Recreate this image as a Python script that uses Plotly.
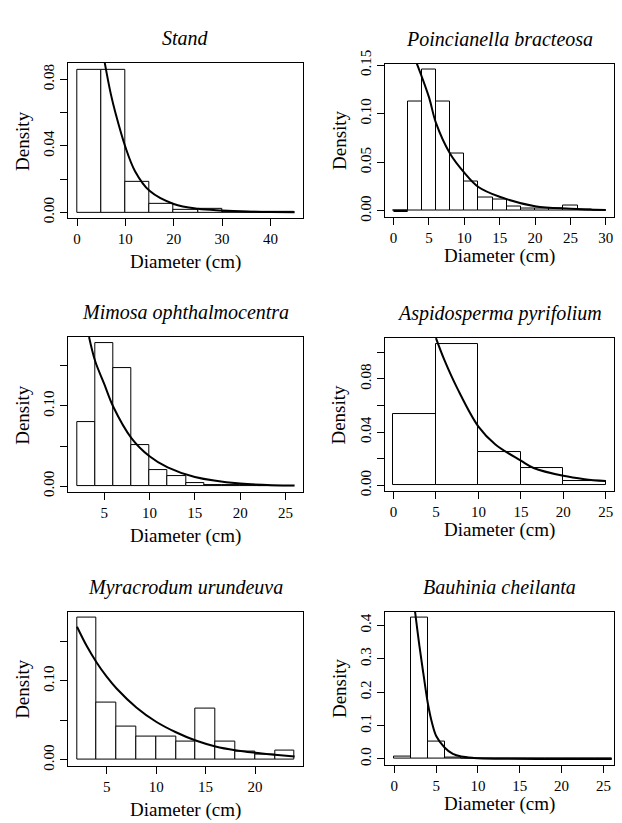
import plotly.graph_objects as go
from plotly.subplots import make_subplots

# ---------------- data ----------------
titles = ["Stand", "Poincianella bracteosa", "Mimosa ophthalmocentra",
          "Aspidosperma pyrifolium", "Myracrodum urundeuva", "Bauhinia cheilanta"]

stand_breaks = [0, 5, 10, 15, 20, 25, 30, 35, 40, 45]
stand_dens = [0.0859, 0.0859, 0.0185, 0.0051, 0.0018, 0.0024, 0.0006, 0.0002, 0.0002]
stand_cx = [5.74, 7, 8, 10, 12, 15, 20, 25, 30, 35, 40, 45]
stand_cy = [0.0899, 0.0711, 0.0593, 0.0394, 0.0248, 0.0130, 0.0051, 0.0022, 0.0012, 0.0006, 0.0003, 0.0002]

poin_breaks = [0, 2, 4, 6, 8, 10, 12, 14, 16, 18, 20, 22, 24, 26, 28, 30]
poin_dens = [0.0007, 0.1130, 0.1458, 0.1120, 0.0585, 0.0306, 0.0137, 0.0114,
             0.0041, 0.0024, 0.0026, 0.0023, 0.0058, 0.0013, 0.0007]
poin_cx = [0, 2, None, 3.3, 5, 6, 8, 10, 12, 15, 20, 25, 30]
poin_cy = [0, 0, None, 0.1516, 0.1173, 0.0905, 0.0588, 0.0394, 0.0246, 0.0145, 0.0048, 0.0022, 0.0008]

mimo_breaks = [2, 4, 6, 8, 10, 12, 14, 16, 18, 20, 22, 24, 26]
mimo_dens = [0.0803, 0.1787, 0.1468, 0.0512, 0.0207, 0.0125, 0.0045, 0.0016, 0.0010, 0.0010, 0.0, 0.0004]
mimo_cx = [3.33, 4, 5, 6, 8, 10, 12, 15, 20, 26]
mimo_cy = [0.1859, 0.156, 0.1275, 0.099, 0.060, 0.0373, 0.0234, 0.0115, 0.0033, 0.0008]

aspi_breaks = [0, 5, 10, 15, 20, 25]
aspi_dens = [0.0532, 0.1063, 0.0247, 0.0130, 0.0032]
aspi_cx = [5, 6, 7.5, 10, 12, 15, 16.5, 20, 22.5, 25]
aspi_cy = [0.1106, 0.0940, 0.0730, 0.0441, 0.0307, 0.0185, 0.0130, 0.0071, 0.0046, 0.0032]

myra_breaks = [2, 4, 6, 8, 10, 12, 14, 16, 18, 20, 22, 24]
myra_dens = [0.1808, 0.0725, 0.0421, 0.0296, 0.0296, 0.0238, 0.0654, 0.0233, 0.0110, 0.0070, 0.0119]
myra_cx = [2, 3, 4, 5, 6, 8, 10, 12, 14, 16, 18, 20, 22, 24]
myra_cy = [0.1688, 0.1440, 0.1232, 0.1055, 0.0905, 0.0665, 0.0483, 0.0350, 0.0245, 0.0170, 0.0122, 0.0090, 0.0065, 0.0042]

bauh_breaks = [0, 2, 4, 6, 8, 10, 12, 14, 16, 18, 20, 22, 24, 26]
bauh_dens = [0.0080, 0.4245, 0.0515, 0.0040, 0.0020, 0, 0, 0, 0, 0, 0, 0, 0]
bauh_cx = [2.47, 3, 3.5, 4, 4.5, 5, 6, 7, 8, 9.5, 12, 26]
bauh_cy = [0.442, 0.338, 0.250, 0.1667, 0.108, 0.0686, 0.0343, 0.0147, 0.0069, 0.0030, 0.0008, 0.0]

stand_xt = [0, 10, 20, 30, 40]
poin_xt = [0, 5, 10, 15, 20, 25, 30]
mimo_xt = [5, 10, 15, 20, 25]
aspi_xt = [0, 5, 10, 15, 20, 25]
myra_xt = [5, 10, 15, 20]
bauh_xt = [0, 5, 10, 15, 20, 25]

stand_yt = [0, 0.02, 0.04, 0.06, 0.08]
stand_yl = ["0.00", "", "0.04", "", "0.08"]
poin_yt = [0, 0.05, 0.10, 0.15]
poin_yl = ["0.00", "0.05", "0.10", "0.15"]
mimo_yt = [0, 0.05, 0.10, 0.15]
mimo_yl = ["0.00", "", "0.10", ""]
aspi_yt = [0, 0.02, 0.04, 0.06, 0.08, 0.10]
aspi_yl = ["0.00", "", "0.04", "", "0.08", ""]
myra_yt = [0, 0.05, 0.10, 0.15]
myra_yl = ["0.00", "", "0.10", ""]
bauh_yt = [0, 0.1, 0.2, 0.3, 0.4]
bauh_yl = ["0.0", "0.1", "0.2", "0.3", "0.4"]

# ---------------- layout geometry (pixels) ----------------
W, H = 622, 823
FONT = "Liberation Serif"

panels = [
    dict(b=stand_breaks, d=stand_dens, cx=stand_cx, cy=stand_cy, xt=stand_xt, yt=stand_yt, yl=stand_yl,
         xr=[-1.8, 46.8], yr=[-0.0036, 0.0899], box=(68.3, 303.3, 50.0, 209.3), lab=45),
    dict(b=poin_breaks, d=poin_dens, cx=poin_cx, cy=poin_cy, xt=poin_xt, yt=poin_yt, yl=poin_yl,
         xr=[-1.2, 31.2], yr=[-0.0058, 0.1516], box=(385.0, 614.3, 50.7, 207.3), lab=40),
    dict(b=mimo_breaks, d=mimo_dens, cx=mimo_cx, cy=mimo_cy, xt=mimo_xt, yt=mimo_yt, yl=mimo_yl,
         xr=[1.04, 26.96], yr=[-0.0072, 0.1859], box=(68.3, 303.3, 330.7, 489.3), lab=45),
    dict(b=aspi_breaks, d=aspi_dens, cx=aspi_cx, cy=aspi_cy, xt=aspi_xt, yt=aspi_yt, yl=aspi_yl,
         xr=[-1.0, 26.0], yr=[-0.0043, 0.1106], box=(385.0, 614.3, 331.7, 488.3), lab=40),
    dict(b=myra_breaks, d=myra_dens, cx=myra_cx, cy=myra_cy, xt=myra_xt, yt=myra_yt, yl=myra_yl,
         xr=[1.12, 24.88], yr=[-0.0072, 0.1880], box=(68.3, 303.3, 611.7, 769.3), lab=45),
    dict(b=bauh_breaks, d=bauh_dens, cx=bauh_cx, cy=bauh_cy, xt=bauh_xt, yt=bauh_yt, yl=bauh_yl,
         xr=[-1.12, 26.3], yr=[-0.017, 0.4415], box=(385.0, 614.3, 611.7, 768.3), lab=40),
]

fig = make_subplots(rows=3, cols=2)
annotations = []

for i, p in enumerate(panels):
    r, c = i // 2 + 1, i % 2 + 1
    widths = [p["b"][k + 1] - p["b"][k] for k in range(len(p["d"]))]
    fig.add_trace(go.Bar(x=p["b"][:-1], y=p["d"], width=widths, offset=0,
                         marker=dict(color="white", line=dict(color="black", width=1)),
                         showlegend=False, hoverinfo="skip"), row=r, col=c)
    fig.add_trace(go.Scatter(x=p["cx"], y=p["cy"], mode="lines", connectgaps=False,
                             line=dict(color="black", width=2, shape="spline", smoothing=1.0),
                             showlegend=False, hoverinfo="skip"), row=r, col=c)
    x0, x1, y0, y1 = p["box"]
    n = "" if i == 0 else str(i + 1)
    fig.layout["xaxis" + n].update(
        domain=[x0 / W, x1 / W], range=p["xr"], tickvals=p["xt"],
        showgrid=False, zeroline=False, showline=True, mirror=True, linecolor="black", linewidth=1,
        ticks="outside", ticklen=7, tickwidth=1, tickcolor="black",
        tickfont=dict(family=FONT, size=15, color="black"))
    fig.layout["yaxis" + n].update(
        domain=[1 - y1 / H, 1 - y0 / H], range=p["yr"], tickvals=p["yt"], ticktext=p["yl"],
        showgrid=False, zeroline=False, showline=True, mirror=True, linecolor="black", linewidth=1,
        ticks="outside", ticklen=7, tickwidth=1, tickcolor="black", tickangle=-90,
        tickfont=dict(family=FONT, size=15, color="black"))
    xc = (x0 + x1) / 2
    yc = (y0 + y1) / 2
    annotations.append(dict(text="<i>" + titles[i] + "</i>", x=xc / W, y=1 - (y0 - 25) / H,
                            xref="paper", yref="paper", showarrow=False, xanchor="center", yanchor="middle",
                            font=dict(family=FONT, size=20, color="black")))
    annotations.append(dict(text="Diameter (cm)", x=xc / W, y=1 - (y1 + p["lab"]) / H,
                            xref="paper", yref="paper", showarrow=False, xanchor="center", yanchor="middle",
                            font=dict(family=FONT, size=19, color="black")))
    annotations.append(dict(text="Density", x=(x0 - 46) / W, y=1 - yc / H, textangle=-90,
                            xref="paper", yref="paper", showarrow=False, xanchor="center", yanchor="middle",
                            font=dict(family=FONT, size=19, color="black")))

fig.update_layout(width=W, height=H, margin=dict(l=0, r=0, t=0, b=0),
                  paper_bgcolor="white", plot_bgcolor="white", bargap=0,
                  annotations=annotations, showlegend=False)

fig.write_html("out.html", config={"displayModeBar": False},
               post_script="document.body.style.margin='0px';document.body.style.overflow='hidden';")
